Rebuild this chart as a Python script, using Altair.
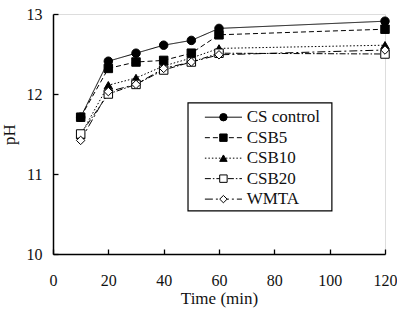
import altair as alt
import pandas as pd

# ---- data ----
times = [10, 20, 30, 40, 50, 60, 120]
series_names = ["CS control", "CSB5", "CSB10", "CSB20", "WMTA"]
cs_control = [11.71, 12.41, 12.51, 12.61, 12.67, 12.82, 12.91]
csb5 = [11.71, 12.32, 12.40, 12.42, 12.51, 12.74, 12.81]
csb10 = [11.49, 12.11, 12.20, 12.35, 12.45, 12.57, 12.61]
csb20 = [11.50, 12.00, 12.12, 12.30, 12.40, 12.51, 12.50]
wmta = [11.42, 12.03, 12.12, 12.32, 12.40, 12.49, 12.55]
x_ticks = [0, 20, 40, 60, 80, 100, 120]
y_ticks = [10, 11, 12, 13]

# ---- styles ----
shapes = ["circle", "square", "triangle-up", "square", "diamond"]
fills = ["black", "black", "black", "white", "white"]
dashes = [[1, 0], [5, 3], [1.5, 2], [6, 2, 1.5, 2], [8, 3, 2, 3]]
FONT = "Liberation Serif"
W, H = 332, 240

rows = []
for name, vals in zip(series_names, [cs_control, csb5, csb10, csb20, wmta]):
    for t, v in zip(times, vals):
        rows.append({"series": name, "time": t, "pH": v})
df = pd.DataFrame(rows)

# legend layout (in data units of the plot)
leg_rows = []
for i, name in enumerate(series_names):
    leg_rows.append({"series": name, "ly": 11.71 - i * 0.256,
                     "lx1": 54.9, "lx2": 68.3, "lxm": 61.6, "lxt": 70.0})
leg_df = pd.DataFrame(leg_rows)
box_df = pd.DataFrame([{"bx1": 48.8, "bx2": 100.8, "by1": 11.89, "by2": 10.54}])

xscale = alt.Scale(domain=[0, 120], nice=False, zero=False)
yscale = alt.Scale(domain=[10, 13], nice=False, zero=False)
dash_scale = alt.Scale(domain=series_names, range=dashes)
shape_scale = alt.Scale(domain=series_names, range=shapes)
fill_scale = alt.Scale(domain=series_names, range=fills)

label_x_axis = alt.Axis(values=x_ticks, ticks=False, tickSize=0, grid=False,
                        domainColor="black", domainWidth=1.5,
                        labelFont=FONT, labelFontSize=16, labelColor="#111",
                        labelPadding=18, labelFlush=False, labelOverlap=False,
                        title="Time (min)", titleFont=FONT, titleFontSize=17,
                        titleFontWeight="normal", titleColor="#111", titlePadding=2)
label_y_axis = alt.Axis(values=y_ticks, ticks=False, tickSize=0, grid=False,
                        domainColor="black", domainWidth=1.5,
                        labelFont=FONT, labelFontSize=16, labelColor="#111",
                        labelPadding=11, labelFlush=False, labelOverlap=False,
                        title="pH", titleFont=FONT, titleFontSize=17,
                        titleFontWeight="normal", titleColor="#111", titlePadding=8)
tick_x_axis = alt.Axis(orient="top", offset=-H, values=x_ticks, labels=False,
                       domain=False, ticks=True, tickSize=5, tickColor="black",
                       tickWidth=1.3, grid=False, title=None)
tick_y_axis = alt.Axis(orient="right", offset=-W, values=y_ticks, labels=False,
                       domain=False, ticks=True, tickSize=5, tickColor="black",
                       tickWidth=1.3, grid=False, title=None)

base = alt.Chart(df)
lines = base.mark_line(color="black", strokeWidth=1).encode(
    x=alt.X("time:Q", scale=xscale, axis=label_x_axis),
    y=alt.Y("pH:Q", scale=yscale, axis=label_y_axis),
    strokeDash=alt.StrokeDash("series:N", scale=dash_scale, legend=None),
    detail="series:N",
)
points = base.mark_point(filled=True, size=72, opacity=1, stroke="black",
                         strokeWidth=1).encode(
    x=alt.X("time:Q", scale=xscale, axis=tick_x_axis),
    y=alt.Y("pH:Q", scale=yscale, axis=tick_y_axis),
    shape=alt.Shape("series:N", scale=shape_scale, legend=None),
    fill=alt.Fill("series:N", scale=fill_scale, legend=None),
)

legend_box = alt.Chart(box_df).mark_rect(fill="white", stroke="black",
                                          strokeWidth=1.2).encode(
    x=alt.X("bx1:Q", scale=xscale, axis=None), x2="bx2:Q",
    y=alt.Y("by1:Q", scale=yscale, axis=None), y2="by2:Q",
)
leg = alt.Chart(leg_df)
legend_lines = leg.mark_rule(color="black", strokeWidth=1).encode(
    x=alt.X("lx1:Q", scale=xscale, axis=None), x2="lx2:Q",
    y=alt.Y("ly:Q", scale=yscale, axis=None),
    strokeDash=alt.StrokeDash("series:N", scale=dash_scale, legend=None),
)
legend_points = leg.mark_point(filled=True, size=55, opacity=1, stroke="black",
                               strokeWidth=1).encode(
    x=alt.X("lxm:Q", scale=xscale, axis=None),
    y=alt.Y("ly:Q", scale=yscale, axis=None),
    shape=alt.Shape("series:N", scale=shape_scale, legend=None),
    fill=alt.Fill("series:N", scale=fill_scale, legend=None),
)
legend_text = leg.mark_text(align="left", baseline="middle", font=FONT,
                            fontSize=17, color="#111").encode(
    x=alt.X("lxt:Q", scale=xscale, axis=None),
    y=alt.Y("ly:Q", scale=yscale, axis=None),
    text="series:N",
)

chart = alt.layer(lines, points, legend_box, legend_lines, legend_points,
                  legend_text).resolve_axis(x="independent", y="independent").properties(
    width=W, height=H,
    autosize=alt.AutoSizeParams(type="none"),
    padding={"left": 53, "top": 14, "right": 12, "bottom": 55},
).configure_view(stroke=None).configure(font=FONT).configure_text(font=FONT)

chart.save("out.html", embed_options={"renderer": "svg", "actions": False})
